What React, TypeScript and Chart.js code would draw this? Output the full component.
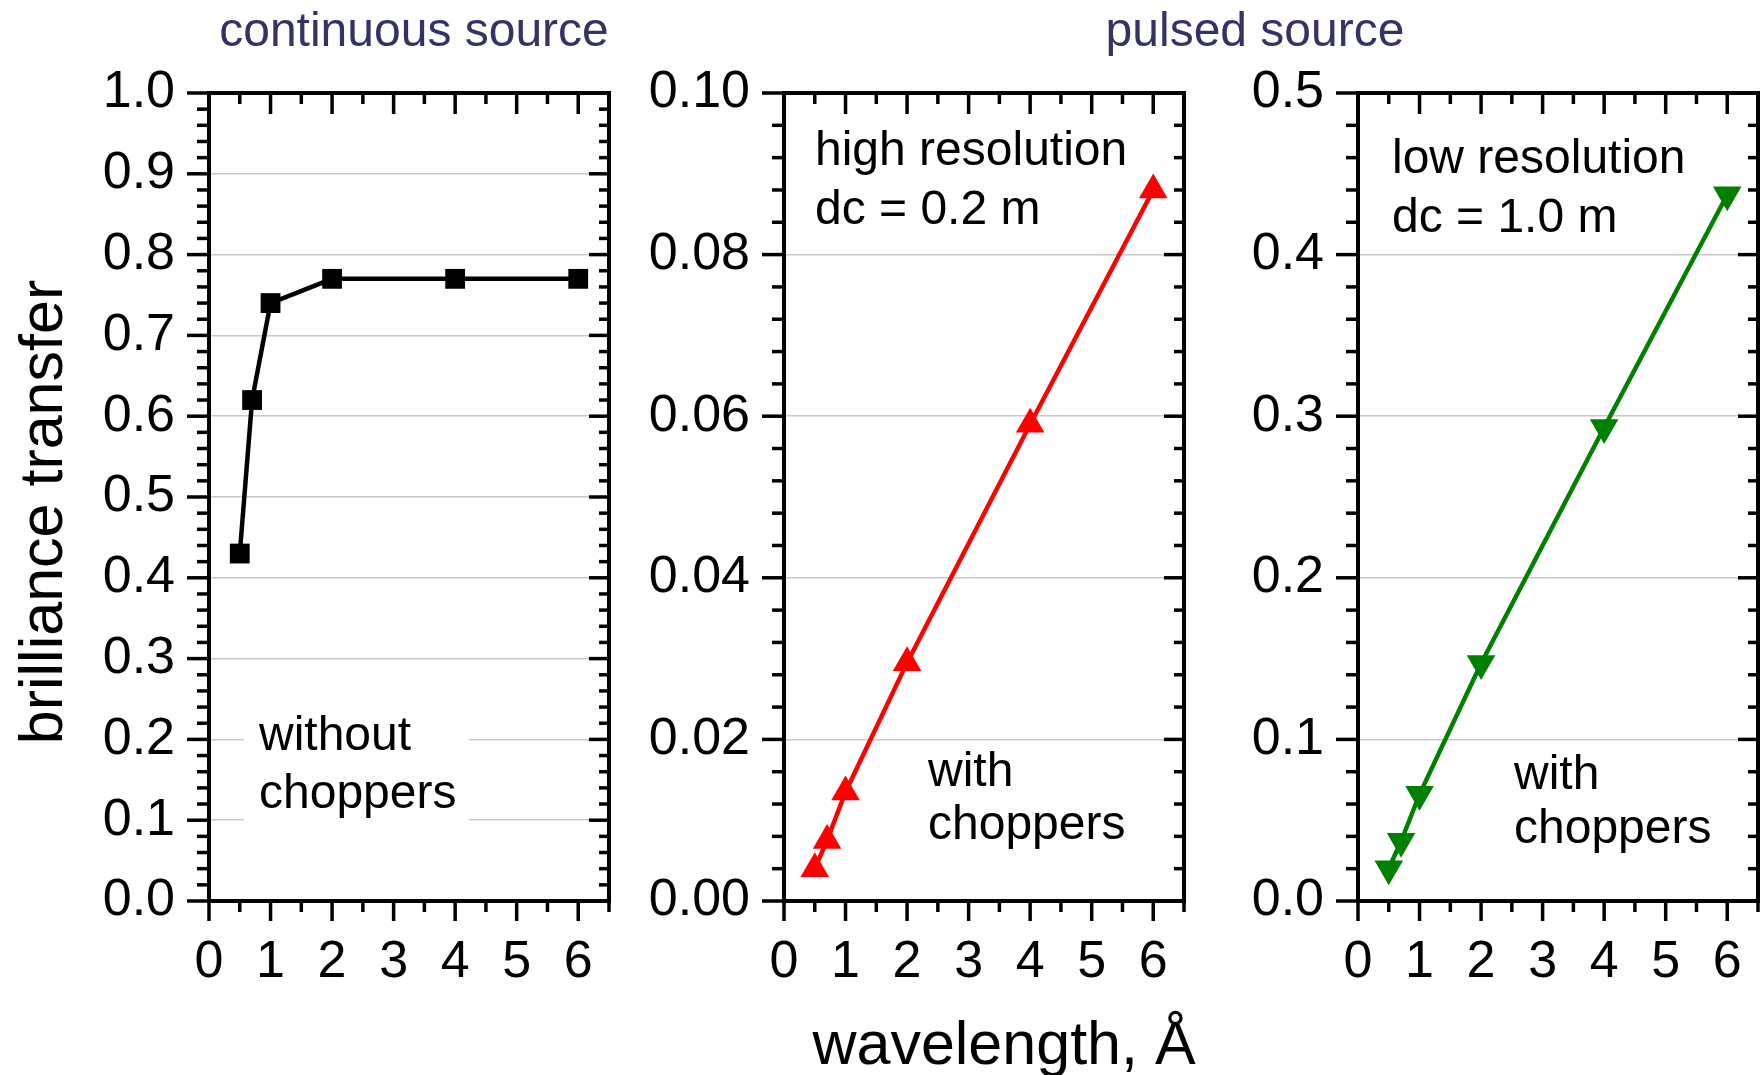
import React, { useEffect, useRef } from "react";
import { Chart, registerables } from "chart.js";

Chart.register(...registerables);

// ---------------- data ----------------
const wavelengths = [0.5, 0.7, 1, 2, 4, 6];
const continuousTransfer = [0.43, 0.62, 0.74, 0.77, 0.77, 0.77];
const pulsedHighResTransfer = [0.004, 0.0075, 0.0135, 0.0295, 0.059, 0.088];
const pulsedLowResTransfer = [0.02, 0.037, 0.066, 0.147, 0.293, 0.437];

const xTickLabels = ["0", "1", "2", "3", "4", "5", "6"];
const sourceTitles = ["continuous source", "pulsed source"];
const yAxisTitle = "brilliance transfer";
const xAxisTitle = "wavelength, Å";
const panel1Notes = ["without", "choppers"];
const panel2Notes = ["high resolution", "dc = 0.2 m", "with", "choppers"];
const panel3Notes = ["low resolution", "dc = 1.0 m", "with", "choppers"];

// ---------------- styling / layout ----------------
const W = 1760;
const H = 1075;
const FONT = "'Liberation Sans', Arial, Helvetica, sans-serif";
const PLOT_TOP = 93;
const PLOT_BOTTOM = 901;
const Y_AXIS_W = 150;

type Note = { text: string; x: number; y: number; color?: string; size?: number; align?: CanvasTextAlign; rotate?: boolean };

interface PanelSpec {
  left: number;
  right: number;
  values: number[];
  color: string;
  pointStyle: string;
  rotation: number;
  radius: number;
  yMax: number;
  yStep: number;
  yMinorStep: number;
  decimals: number;
  notes: Note[];
  box?: { x1: number; y1: number; x2: number; y2: number };
}

const panels: PanelSpec[] = [
  {
    left: 209,
    right: 609,
    values: continuousTransfer,
    color: "#000000",
    pointStyle: "rect",
    rotation: 0,
    radius: 14,
    yMax: 1.0,
    yStep: 0.1,
    yMinorStep: 0.02,
    decimals: 1,
    notes: [
      { text: panel1Notes[0], x: 259, y: 750 },
      { text: panel1Notes[1], x: 259, y: 808 },
      { text: sourceTitles[0], x: 414, y: 46, color: "#333366", align: "center" },
      { text: sourceTitles[1], x: 1255, y: 46, color: "#333366", align: "center" },
      { text: yAxisTitle, x: 62, y: 512, size: 61, align: "center", rotate: true },
      { text: xAxisTitle, x: 1004, y: 1064, size: 61, align: "center" },
    ],
    box: { x1: 244, y1: 700, x2: 469, y2: 845 },
  },
  {
    left: 784,
    right: 1184,
    values: pulsedHighResTransfer,
    color: "#ff0000",
    pointStyle: "triangle",
    rotation: 0,
    radius: 16.5,
    yMax: 0.1,
    yStep: 0.02,
    yMinorStep: 0.004,
    decimals: 2,
    notes: [
      { text: panel2Notes[0], x: 815, y: 165 },
      { text: panel2Notes[1], x: 815, y: 224 },
      { text: panel2Notes[2], x: 928, y: 786 },
      { text: panel2Notes[3], x: 928, y: 839 },
    ],
  },
  {
    left: 1358,
    right: 1758,
    values: pulsedLowResTransfer,
    color: "#008000",
    pointStyle: "triangle",
    rotation: 180,
    radius: 16.5,
    yMax: 0.5,
    yStep: 0.1,
    yMinorStep: 0.02,
    decimals: 1,
    notes: [
      { text: panel3Notes[0], x: 1392, y: 173 },
      { text: panel3Notes[1], x: 1392, y: 232 },
      { text: panel3Notes[2], x: 1514, y: 789 },
      { text: panel3Notes[3], x: 1514, y: 843 },
    ],
  },
];

const framePlugin = {
  id: "frameTicks",
  beforeDatasetsDraw(chart: any, _args: any, opts: any) {
    const box = opts && opts.box;
    if (box) {
      const ctx = chart.ctx;
      ctx.save();
      ctx.fillStyle = "#ffffff";
      ctx.fillRect(box.x1, box.y1, box.x2 - box.x1, box.y2 - box.y1);
      ctx.restore();
    }
  },
  afterDatasetsDraw(chart: any, _args: any, opts: any) {
    const { ctx, chartArea } = chart;
    const { left, right, top, bottom } = chartArea;
    const xs = chart.scales.x;
    const ys = chart.scales.y;
    ctx.save();
    ctx.strokeStyle = "#000000";
    ctx.lineCap = "butt";
    ctx.lineWidth = 3.5;
    const line = (x1: number, y1: number, x2: number, y2: number) => {
      ctx.beginPath();
      ctx.moveTo(x1, y1);
      ctx.lineTo(x2, y2);
      ctx.stroke();
    };
    // x major ticks (from scale ticks)
    xs.ticks.forEach((t: any) => {
      const px = xs.getPixelForValue(t.value);
      line(px, bottom, px, bottom + 20);
      line(px, top, px, top + 21);
    });
    // x minor ticks
    for (let v = xs.min + 0.5; v <= xs.max + 1e-9; v += 1) {
      const px = xs.getPixelForValue(v);
      line(px, bottom, px, bottom + 11);
      line(px, top, px, top + 11);
    }
    // y major ticks
    ys.ticks.forEach((t: any) => {
      const py = ys.getPixelForValue(t.value);
      line(left - 22, py, left, py);
      line(right - 20, py, right, py);
    });
    // y minor ticks
    const minor = opts.yMinorStep;
    const n = Math.round((ys.max - ys.min) / minor);
    for (let k = 1; k < n; k++) {
      if (k % 5 === 0) continue;
      const py = ys.getPixelForValue(ys.min + k * minor);
      line(left - 12, py, left, py);
      line(right - 10, py, right, py);
    }
    // frame
    ctx.lineWidth = 4;
    ctx.strokeRect(left, top, right - left, bottom - top);
    ctx.restore();
  },
  afterDraw(chart: any, _args: any, opts: any) {
    const ctx = chart.ctx;
    const notes: Note[] = (opts && opts.notes) || [];
    ctx.save();
    notes.forEach((n) => {
      ctx.fillStyle = n.color || "#000000";
      ctx.font = `${n.size || 48}px ${FONT}`;
      ctx.textBaseline = "alphabetic";
      ctx.textAlign = n.align || "left";
      if (n.rotate) {
        ctx.save();
        ctx.translate(n.x, n.y);
        ctx.rotate(-Math.PI / 2);
        ctx.fillText(n.text, 0, 0);
        ctx.restore();
      } else {
        ctx.fillText(n.text, n.x, n.y);
      }
    });
    ctx.restore();
  },
};

function PanelChart({ spec }: { spec: PanelSpec }) {
  const ref = useRef<HTMLCanvasElement | null>(null);
  useEffect(() => {
    if (!ref.current) return;
    const chart = new Chart(ref.current, {
      type: "line",
      data: {
        datasets: [
          {
            data: wavelengths.map((x, i) => ({ x, y: spec.values[i] })),
            borderColor: spec.color,
            backgroundColor: spec.color,
            borderWidth: 4.5,
            pointStyle: spec.pointStyle as any,
            pointRotation: spec.rotation,
            pointRadius: spec.radius,
            pointBorderWidth: 0,
            pointBackgroundColor: spec.color,
            tension: 0,
            clip: false as any,
          },
        ],
      },
      options: {
        responsive: false,
        animation: false,
        events: [],
        layout: {
          autoPadding: false,
          padding: {
            left: spec.left - Y_AXIS_W,
            right: W - spec.right,
            top: PLOT_TOP,
            bottom: 0,
          },
        },
        plugins: {
          legend: { display: false },
          tooltip: { enabled: false },
          frameTicks: { yMinorStep: spec.yMinorStep, notes: spec.notes, box: spec.box },
        } as any,
        scales: {
          x: {
            type: "linear",
            min: 0,
            max: 6.5,
            afterFit: (scale: any) => {
              scale.height = H - PLOT_BOTTOM;
              scale.paddingLeft = 0;
              scale.paddingRight = 0;
            },
            grid: { display: false, drawTicks: false },
            border: { display: false },
            ticks: {
              stepSize: 1,
              includeBounds: false,
              autoSkip: false,
              maxRotation: 0,
              padding: 30,
              color: "#000000",
              font: { family: FONT, size: 52 },
              callback: (v: any) => xTickLabels[Math.round(Number(v))] ?? "",
            },
          },
          y: {
            type: "linear",
            min: 0,
            max: spec.yMax,
            afterFit: (scale: any) => {
              scale.width = Y_AXIS_W;
              scale.paddingTop = 0;
              scale.paddingBottom = 0;
            },
            grid: { display: true, drawOnChartArea: true, drawTicks: false, color: "#c8c8c8", lineWidth: 1.5 },
            border: { display: false },
            ticks: {
              stepSize: spec.yStep,
              autoSkip: false,
              padding: 34,
              color: "#000000",
              font: { family: FONT, size: 52 },
              callback: (v: any) => Number(v).toFixed(spec.decimals),
            },
          },
        },
      } as any,
      plugins: [framePlugin as any],
    });
    return () => chart.destroy();
  }, [spec]);
  return (
    <canvas
      ref={ref}
      width={W}
      height={H}
      style={{ position: "absolute", left: 0, top: 0, width: W, height: H }}
    />
  );
}

export default function App() {
  return (
    <div style={{ position: "absolute", left: 0, top: 0, width: W, height: H, background: "#ffffff" }}>
      {panels.map((p, i) => (
        <PanelChart key={i} spec={p} />
      ))}
    </div>
  );
}
